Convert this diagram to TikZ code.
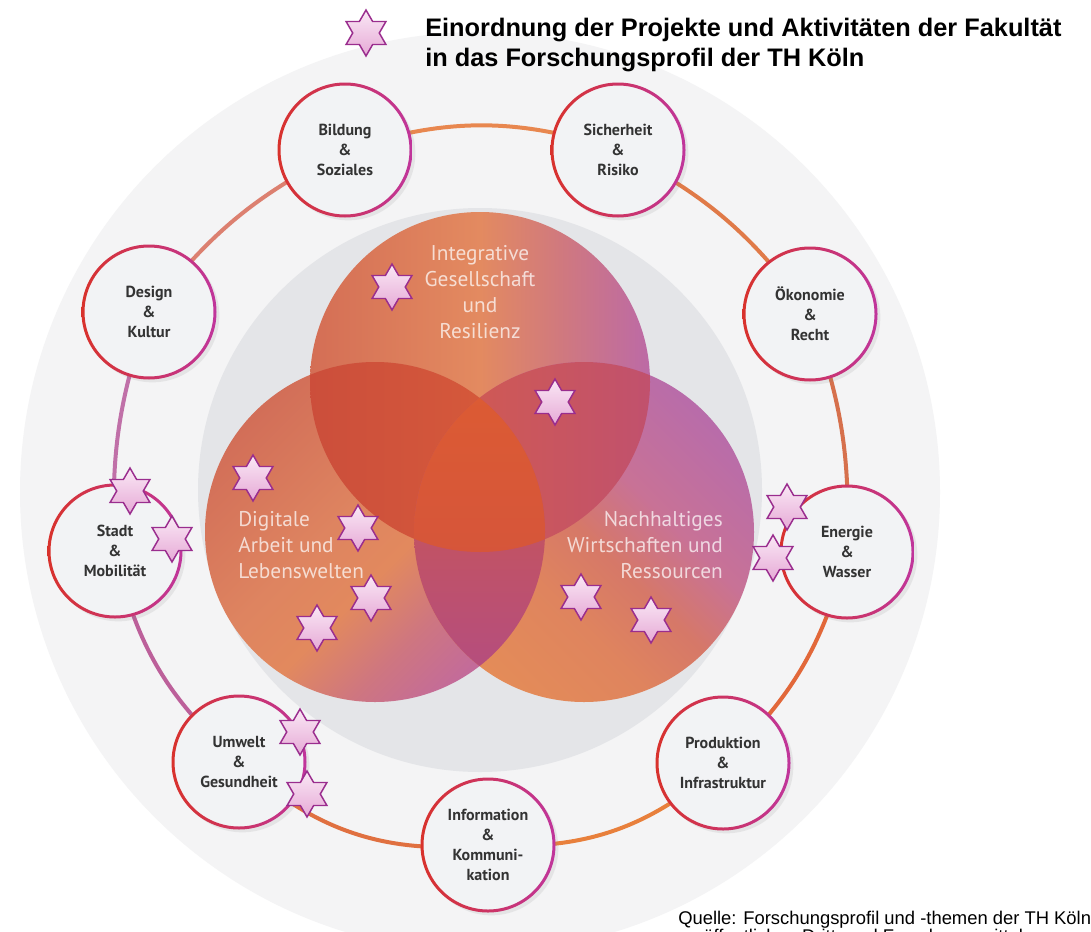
\documentclass[tikz,border=0pt]{standalone}
\usepackage{fontspec}
\setmainfont{Liberation Sans}
\newfontfamily\ptsans{PT Sans}
\usetikzlibrary{shapes.geometric,shadows}
\definecolor{pale}{HTML}{F4F4F5}
\definecolor{graydisk}{HTML}{E4E5E8}
\definecolor{topicfill}{HTML}{F2F3F5}
\definecolor{topictext}{HTML}{333333}
\definecolor{ringL}{HTML}{D8322C}
\definecolor{ringM}{HTML}{EE6A2C}
\definecolor{ringR}{HTML}{C0359C}
\definecolor{starline}{HTML}{9A2D8E}
\definecolor{startop}{HTML}{FAE8F5}
\definecolor{starbot}{HTML}{E6A9D6}
\definecolor{rOrange}{HTML}{E8874F}
\definecolor{rOrange2}{HTML}{E07A48}
\definecolor{rBrown}{HTML}{D6704C}
\definecolor{rRed}{HTML}{E2683A}
\definecolor{rOrange3}{HTML}{E8803C}
\definecolor{rOrange4}{HTML}{E07040}
\definecolor{rPurple}{HTML}{BC609A}
\definecolor{rMauve}{HTML}{C070A8}
\definecolor{rSalmon}{HTML}{DC8070}
% Venn colours
\definecolor{tA}{HTML}{D46E55}
\definecolor{tB}{HTML}{E38A60}
\definecolor{tC}{HTML}{CF7880}
\definecolor{tD}{HTML}{BC6AA6}
\definecolor{lA}{HTML}{C26A9C}
\definecolor{lB}{HTML}{CE7680}
\definecolor{lC}{HTML}{E2895E}
\definecolor{lD}{HTML}{DE8460}
\definecolor{lE}{HTML}{D26E58}
\definecolor{rA}{HTML}{E48C58}
\definecolor{rB}{HTML}{DF845E}
\definecolor{rC}{HTML}{D67868}
\definecolor{rD}{HTML}{C87296}
\definecolor{rE}{HTML}{B86CAA}
\pgfdeclarehorizontalshading{topven}{100bp}{color(0bp)=(tA); color(25bp)=(tA); color(50bp)=(tB); color(62.5bp)=(tC); color(75bp)=(tD); color(100bp)=(tD)}
\pgfdeclareverticalshading{leftven}{100bp}{color(0bp)=(lA); color(25bp)=(lA); color(35bp)=(lB); color(45bp)=(lC); color(55bp)=(lD); color(75bp)=(lE); color(100bp)=(lE)}
\pgfdeclareverticalshading{rightven}{100bp}{color(0bp)=(rA); color(25bp)=(rA); color(40bp)=(rB); color(50bp)=(rC); color(60bp)=(rD); color(75bp)=(rE); color(100bp)=(rE)}
\pgfdeclarelayer{bg}
\pgfdeclarelayer{ringlayer}
\pgfsetlayers{bg,ringlayer,main}
\newcommand{\topicring}[1]{\shade[even odd rule,left color=ringL,middle color=ringM,right color=ringR] (#1.center) circle (67.5) (#1.center) circle (64.5);}
\begin{document}
\begin{tikzpicture}[x=0.75pt,y=-0.75pt,
  topic/.style={circle,minimum size=100.5pt,inner sep=0pt,fill=topicfill,
    font=\ptsans\bfseries\fontsize{12}{15}\selectfont,text=topictext,align=center,
    drop shadow={opacity=0.13,shadow xshift=2.5pt,shadow yshift=-2.5pt}},
  ringline/.style={line width=3pt,looseness=1},
  vennlabel/.style={font=\ptsans\fontsize{16}{19.3}\selectfont,text=white,text opacity=0.72,inner sep=0pt},
  starnode/.style={star,star points=6,star point ratio=1.732,minimum size=34.5pt,inner sep=0pt,
    draw=starline,line width=1.1pt,top color=startop,bottom color=starbot},
  titletext/.style={font=\bfseries\fontsize{19}{22}\selectfont,anchor=base west,inner sep=0pt},
  srctext/.style={font=\fontsize{13.8}{17}\selectfont,anchor=base west,inner sep=0pt}
]
\useasboundingbox (0,0) rectangle (1091,931);
\begin{pgfonlayer}{bg}
\fill[white] (0,0) rectangle (1091,931);
% background disks
\fill[pale] (480,492) circle (460);
\fill[graydisk] (480,490) circle (282);
% Venn circles
\coordinate (vt) at (480,382);
\coordinate (vl) at (375,532);
\coordinate (vr) at (584,532);
\shade[shading=topven] (vt) circle (170);
\shade[shading=leftven,shading angle=45] (vl) circle (170);
\shade[shading=rightven,shading angle=-45] (vr) circle (170);
\begin{scope}
  \clip (vt) circle (170);
  \shade[left color={rgb,255:red,198;green,72;blue,60},right color={rgb,255:red,216;green,92;blue,58}] (vl) circle (170);
\end{scope}
\begin{scope}
  \clip (vt) circle (170);
  \shade[left color={rgb,255:red,212;green,92;blue,76},right color={rgb,255:red,184;green,76;blue,124}] (vr) circle (170);
\end{scope}
\begin{scope}
  \clip (vl) circle (170);
  \shade[top color={rgb,255:red,210;green,90;blue,66},bottom color={rgb,255:red,178;green,76;blue,132}] (vr) circle (170);
\end{scope}
\begin{scope}
  \clip (vt) circle (170);
  \clip (vl) circle (170);
  \shade[top color={rgb,255:red,221;green,92;blue,50},bottom color={rgb,255:red,208;green,80;blue,64}] (vr) circle (170);
\end{scope}
\end{pgfonlayer}
% Venn labels
\node[vennlabel,align=center] (lint) at (480,292) {Integrative\\Gesellschaft\\und\\Resilienz};
\node[vennlabel,align=left,anchor=west] (ldig) at (238,545) {Digitale\\Arbeit und\\Lebenswelten};
\node[vennlabel,align=right,anchor=east] (lnach) at (723,545) {Nachhaltiges\\Wirtschaften und\\Ressourcen};
% topic circles
\node[topic] (bild) at (345,150) {Bildung\\\&\\Soziales};
\node[topic] (sich) at (618,150) {Sicherheit\\\&\\Risiko};
\node[topic] (oeko) at (810,314) {Ökonomie\\\&\\Recht};
\node[topic] (ener) at (847,552) {Energie\\\&\\Wasser};
\node[topic] (prod) at (723,763) {Produktion\\\&\\Infrastruktur};
\node[topic] (info) at (488,845) {Information\\\&\\Kommuni-\\kation};
\node[topic] (umw) at (239,762) {Umwelt\\\&\\Gesundheit};
\node[topic] (stadt) at (115,551) {Stadt\\\&\\Mobilität};
\node[topic] (des) at (149,312) {Design\\\&\\Kultur};
% ring connectors (centre to centre, under the circles)
\begin{pgfonlayer}{ringlayer}
\draw[ringline,rOrange] (bild.center) to[bend left=18] (sich.center);
\draw[ringline,rOrange2] (sich.center) to[bend left=13.5] (oeko.center);
\draw[ringline,rBrown] (oeko.center) to[bend left=11] (ener.center);
\draw[ringline,rRed] (ener.center) to[bend left=16] (prod.center);
\draw[ringline,rOrange3] (prod.center) to[bend left=22.5] (info.center);
\draw[ringline,rOrange4] (info.center) to[bend left=24] (umw.center);
\draw[ringline,rPurple] (umw.center) to[bend left=18] (stadt.center);
\draw[ringline,rMauve] (stadt.center) to[bend left=11] (des.center);
\draw[ringline,rSalmon] (des.center) to[bend left=13] (bild.center);
\end{pgfonlayer}
% topic borders
\topicring{bild}\topicring{sich}\topicring{oeko}\topicring{ener}\topicring{prod}
\topicring{info}\topicring{umw}\topicring{stadt}\topicring{des}
% stars
\node[starnode] (s1) at (392,287) {};
\node[starnode] (s2) at (555,402) {};
\node[starnode] (s3) at (253,478) {};
\node[starnode] (s4) at (358,528) {};
\node[starnode] (s5) at (371,598) {};
\node[starnode] (s6) at (317,628) {};
\node[starnode] (s7) at (581,597) {};
\node[starnode] (s8) at (651,620) {};
\node[starnode] (s9) at (130,491) {};
\node[starnode] (s10) at (172,539) {};
\node[starnode] (s11) at (787,507) {};
\node[starnode] (s12) at (773,558) {};
\node[starnode] (s13) at (300,732) {};
\node[starnode] (s14) at (307,794) {};
% legend / title
\node[starnode] (s0) at (366,33) {};
\node[titletext] (t1) at (425,37) {Einordnung der Projekte und Aktivitäten der Fakultät};
\node[titletext] (t2) at (425,66) {in das Forschungsprofil der TH Köln};
% source
\node[srctext] (q1) at (678,924) {Quelle: Forschungsprofil und -themen der TH Köln};
\node[srctext] (q2) at (703,942) {öffentlichen Dritt- und Forschungsmitteln};
\end{tikzpicture}
\end{document}
